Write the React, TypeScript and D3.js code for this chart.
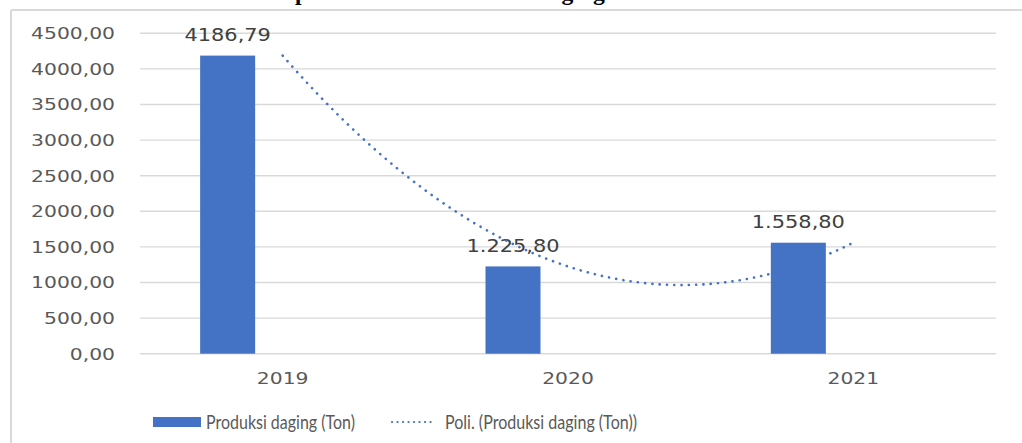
import React from 'react';
import * as d3 from 'd3';

const categories = ['2019', '2020', '2021'];
const seriesNames = ['Produksi daging (Ton)', 'empty1', 'empty2'];
const values = [4186.79, 1225.8, 1558.8];
const valueLabels = ['4186,79', '1.225,80', '1.558,80'];
const yTicks = [0, 500, 1000, 1500, 2000, 2500, 3000, 3500, 4000, 4500];
const legendLabels = ['Produksi daging (Ton)', 'Poli. (Produksi daging (Ton))'];
const titleText = 'Grafik produksi dan konsumsi daging';

const W = 1022;
const H = 443;
const BLUE = '#4472C4';
const GRID = '#d9d9d9';
const TXT = '#595959';
const SX = 1.23;

// least squares polynomial (order 2) fit
function polyFit(xs: number[], ys: number[], order: number): number[] {
  const n = order + 1;
  const A: number[][] = Array.from({ length: n }, () => new Array(n + 1).fill(0));
  for (let r = 0; r < n; r++) {
    for (let c = 0; c < n; c++) {
      A[r][c] = d3.sum(xs, (x) => Math.pow(x, r + c));
    }
    A[r][n] = d3.sum(xs, (x, i) => Math.pow(x, r) * ys[i]);
  }
  for (let i = 0; i < n; i++) {
    let p = i;
    for (let k = i + 1; k < n; k++) if (Math.abs(A[k][i]) > Math.abs(A[p][i])) p = k;
    [A[i], A[p]] = [A[p], A[i]];
    for (let k = i + 1; k < n; k++) {
      const f = A[k][i] / A[i][i];
      for (let j = i; j <= n; j++) A[k][j] -= f * A[i][j];
    }
  }
  const coef = new Array(n).fill(0);
  for (let i = n - 1; i >= 0; i--) {
    let s = A[i][n];
    for (let j = i + 1; j < n; j++) s -= A[i][j] * coef[j];
    coef[i] = s / A[i][i];
  }
  return coef;
}

export default function App() {
  const plotL = 140;
  const plotR = 996;
  const y = d3.scaleLinear().domain([0, 4500]).range([353.7, 33.3]);
  const x = d3
    .scaleBand<string>()
    .domain(categories)
    .range([plotL, plotR])
    .paddingInner(0.4217)
    .paddingOuter(0.2108);
  const inner = d3.scaleBand<string>().domain(seriesNames).range([0, x.bandwidth()]);
  const center = (c: string) => (x(c) as number) + x.bandwidth() / 2;

  const xs = categories.map((_, i) => i + 1);
  const coef = polyFit(xs, values, 2);
  const f = (t: number) => coef[0] + coef[1] * t + coef[2] * t * t;
  const tToPx = d3.scaleLinear().domain([1, categories.length]).range([center(categories[0]), center(categories[categories.length - 1])]);
  const samples = d3.range(1, categories.length + 0.0001, 0.02);
  const trend = d3
    .line<number>()
    .x((t) => tToPx(t))
    .y((t) => y(f(t)))
    .curve(d3.curveLinear)(samples) as string;

  const fmt = (v: number) => v.toFixed(2).replace('.', ',');
  const numFont = "'DejaVu Sans', Verdana, sans-serif";
  const legFont = "Lato, 'Open Sans', sans-serif";

  return (
    <svg width={W} height={H} style={{ position: 'fixed', left: 0, top: 0, background: '#fff' }}>
      <rect x={0} y={0} width={W} height={H} fill="#fff" />
      {/* title (cut off at the top edge, as in the reference) */}
      <text x={221} y={-0.5} fontFamily="'Liberation Serif', 'Times New Roman', serif" fontWeight="bold" fontSize={23.6} fill="#000">
        {titleText}
      </text>
      {/* frame */}
      <line x1={11} x2={W} y1={10} y2={10} stroke={GRID} strokeWidth={2} />
      <line x1={11} x2={11} y1={10} y2={H} stroke={GRID} strokeWidth={2} />

      {/* gridlines + y labels */}
      {yTicks.map((t) => (
        <g key={t}>
          <line x1={plotL} x2={plotR} y1={y(t)} y2={y(t)} stroke={GRID} strokeWidth={1.4} />
          <text
            transform={`translate(115,${y(t)}) scale(${SX},1)`}
            textAnchor="end"
            dy="0.36em"
            fontFamily={numFont}
            fontSize={16.5}
            fill={TXT}
          >
            {fmt(t)}
          </text>
        </g>
      ))}

      {/* bars */}
      {categories.map((c, i) => {
        const bx = (x(c) as number) + (inner(seriesNames[0]) as number);
        const bw = inner.bandwidth();
        return (
          <g key={c}>
            <rect x={bx} y={y(values[i])} width={bw} height={y(0) - y(values[i])} fill={BLUE} />
            <text
              transform={`translate(${bx + bw / 2},${y(values[i]) - 20.5}) scale(${SX},1)`}
              textAnchor="middle"
              dy="0.36em"
              fontFamily={numFont}
              fontSize={17}
              fill="#404040"
            >
              {valueLabels[i]}
            </text>
            <text
              transform={`translate(${center(c)},378) scale(${SX},1)`}
              textAnchor="middle"
              dy="0.36em"
              fontFamily={numFont}
              fontSize={16.5}
              fill={TXT}
            >
              {c}
            </text>
          </g>
        );
      })}

      {/* trendline */}
      <path d={trend} fill="none" stroke={BLUE} strokeWidth={2.6} strokeLinecap="round" strokeDasharray="0.1 7.2" />

      {/* legend */}
      <rect x={153} y={417} width={48} height={10} fill={BLUE} />
      <text x={206} y={428.5} fontFamily={legFont} fontSize={19} fill={TXT} textLength={149} lengthAdjust="spacingAndGlyphs">
        {legendLabels[0]}
      </text>
      <line x1={392} x2={436} y1={422} y2={422} stroke={BLUE} strokeWidth={2.2} strokeLinecap="round" strokeDasharray="0.1 5.4" />
      <text x={445} y={428.5} fontFamily={legFont} fontSize={19} fill={TXT} textLength={192} lengthAdjust="spacingAndGlyphs">
        {legendLabels[1]}
      </text>
    </svg>
  );
}
